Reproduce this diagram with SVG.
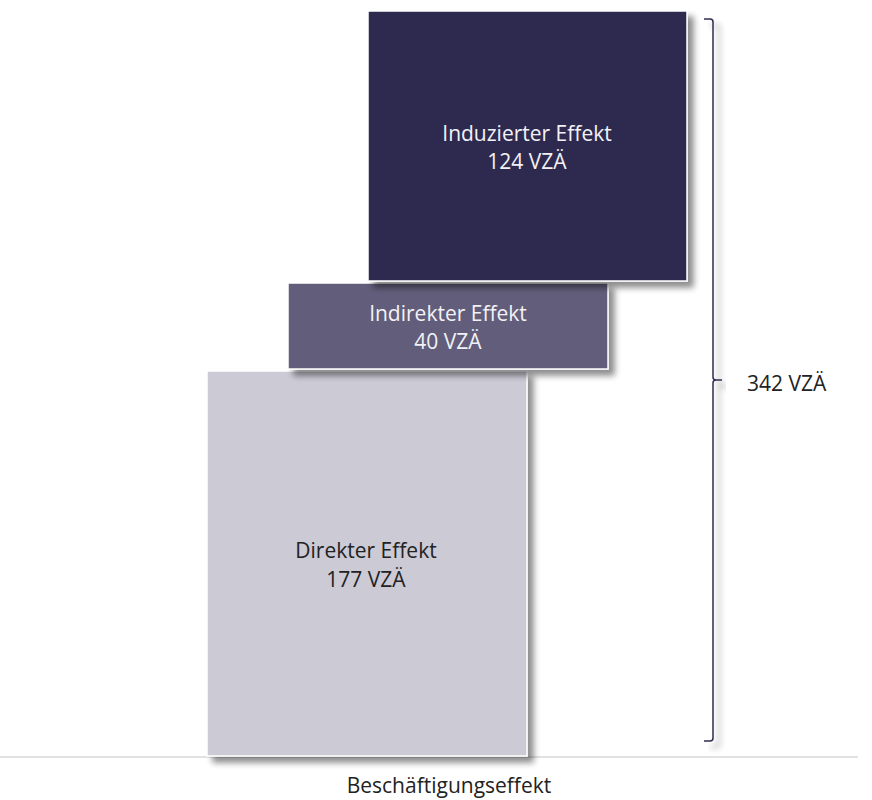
<svg xmlns="http://www.w3.org/2000/svg" width="872" height="800" viewBox="0 0 872 800">
<defs>
<filter id="sh" x="-10%" y="-10%" width="130%" height="130%">
<feGaussianBlur in="SourceAlpha" stdDeviation="3"/>
<feOffset dx="6" dy="6" result="b"/>
<feComponentTransfer><feFuncA type="linear" slope="0.45"/></feComponentTransfer>
<feMerge><feMergeNode/><feMergeNode in="SourceGraphic"/></feMerge>
</filter>
</defs>
<style>
.lbl{font-family:"Open Sans","Noto Sans",sans-serif;font-size:21px;text-anchor:middle}
.w{fill:#f2f2f6}
.d{fill:#222222}
.box{stroke:#ffffff;stroke-width:1.5}
</style>
<rect width="872" height="800" fill="#ffffff"/>
<line x1="0" y1="757" x2="858" y2="757" stroke="#d9d9d9" stroke-width="1.5"/>
<g id="direkt">
<rect class="box" x="207" y="371" width="320" height="385" fill="#cbcad5" filter="url(#sh)"/>
<text class="lbl d" x="366" y="558">Direkter Effekt</text>
<text class="lbl d" x="366" y="587">177 VZÄ</text>
</g>
<g id="indirekt">
<rect class="box" x="288" y="283" width="320" height="86" fill="#625d7a" filter="url(#sh)"/>
<text class="lbl w" x="448" y="321">Indirekter Effekt</text>
<text class="lbl w" x="448" y="349">40 VZÄ</text>
</g>
<g id="induziert">
<rect class="box" x="368" y="11" width="319" height="270" fill="#2e2b4f" filter="url(#sh)"/>
<text class="lbl w" x="527" y="141">Induzierter Effekt</text>
<text class="lbl w" x="527" y="169">124 VZÄ</text>
</g>
<g id="connectors">
<path d="M704 19 H710 Q713 19 713 22 V377 Q713 380 716 380 H722 M716 380 Q713 380 713 383 V738 Q713 741 710 741 H704" fill="none" stroke="#2e2b4f" stroke-width="1.5" filter="url(#sh)"/>
</g>
<text class="lbl d" x="747" y="391" style="text-anchor:start">342 VZÄ</text>
<text class="lbl d" x="449" y="793">Beschäftigungseffekt</text>
</svg>
